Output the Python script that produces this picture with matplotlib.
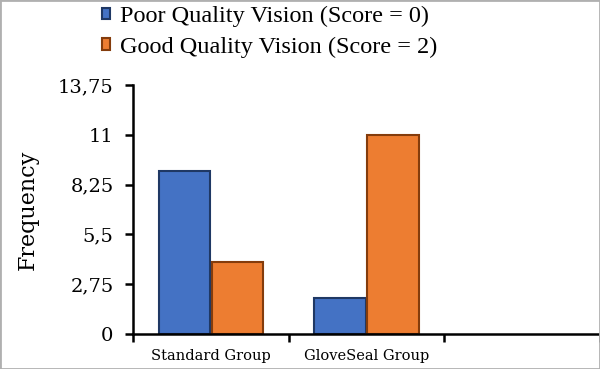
import matplotlib.pyplot as plt
from matplotlib.patches import Rectangle

groups = ["Standard Group", "GloveSeal Group", ""]
poor = [9, 2]
good = [4, 11]
yticks = [0, 2.75, 5.5, 8.25, 11, 13.75]
ytick_labels = ["0", "2,75", "5,5", "8,25", "11", "13,75"]

plt.rcParams["font.family"] = ["DejaVu Serif"]

fig = plt.figure(figsize=(6, 3.69), dpi=100)
ax = fig.add_axes([0.2217, 0.0949, 0.7783, 0.6747])

w = 0.33
xs = range(len(poor))
ax.bar([x - w / 2 - 0.005 for x in xs], poor, width=w, color="#4472C4",
       edgecolor="#1F3864", linewidth=1.5, label="Poor Quality Vision (Score = 0)")
ax.bar([x + w / 2 + 0.005 for x in xs], good, width=w, color="#ED7D31",
       edgecolor="#843C0C", linewidth=1.5, label="Good Quality Vision (Score = 2)")

ax.set_xlim(-0.5, len(groups) - 0.5)
ax.set_ylim(0, 13.75)
ax.set_yticks(yticks)
ax.set_yticklabels(ytick_labels, fontsize=14)
ax.set_xticks([i - 0.5 for i in range(len(groups) + 1)])
ax.set_xticklabels([])
ax.set_xticks(range(len(groups)), minor=True)
ax.set_xticklabels(groups, minor=True, fontsize=10.5)
ax.tick_params(axis="x", which="minor", length=0, pad=11)
ax.tick_params(axis="both", which="major", length=6, width=1.8, direction="out")
ax.tick_params(axis="y", pad=8)
ax.set_ylabel("Frequency", fontsize=16, labelpad=14)

for s in ["top", "right"]:
    ax.spines[s].set_visible(False)
for s in ["left", "bottom"]:
    ax.spines[s].set_linewidth(1.8)

leg = fig.legend(loc="upper left", bbox_to_anchor=(0.153, 1.01), frameon=False,
                 prop={"family": "Liberation Serif", "size": 17.5},
                 handlelength=0.35, handleheight=0.35, handletextpad=0.4,
                 labelspacing=0.38, borderaxespad=0)

fig.add_artist(Rectangle((0, 0), 1, 1, transform=fig.transFigure, fill=False,
                         edgecolor="#b0b0b0", linewidth=2))

fig.savefig("out.png", dpi=100)
